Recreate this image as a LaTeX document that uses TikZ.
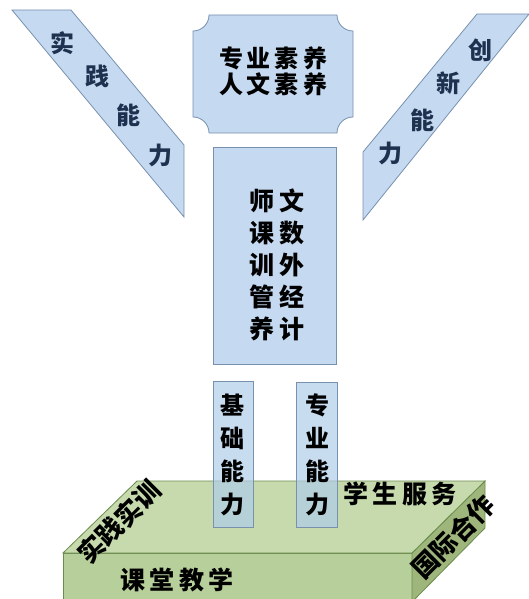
\documentclass[tikz,border=0pt]{standalone}
\usepackage{fontspec}
\newfontfamily\cjk{Noto Sans CJK SC}
\definecolor{bfill}{RGB}{197,217,241}
\definecolor{bline}{RGB}{120,145,175}
\definecolor{sfill}{RGB}{176,205,233}
\definecolor{gtop}{RGB}{198,218,174}
\definecolor{gfront}{RGB}{183,208,155}
\definecolor{gside}{RGB}{158,182,124}
\definecolor{gline}{RGB}{105,140,75}
\definecolor{navy}{RGB}{30,50,80}
\tikzset{
  bluebox/.style={fill=bfill,draw=bline,line width=0.8pt},
  smallbox/.style={fill=sfill,fill opacity=0.7,draw=bline,line width=0.8pt},
  slab/.style={draw=gline,line width=0.8pt},
  txt/.style={font=\cjk\bfseries\fontsize{24}{28}\selectfont,text=black,inner sep=0pt},
  ntxt/.style={font=\cjk\bfseries\fontsize{24}{26}\selectfont,text=navy,inner sep=0pt},
  btxt/.style={font=\cjk\bfseries\fontsize{25}{28}\selectfont,text=black,inner sep=0pt},
  rtxt/.style={font=\cjk\bfseries\fontsize{26}{28}\selectfont,text=black,inner sep=0pt,rotate=45}
}
\begin{document}
\begin{tikzpicture}[x=1pt,y=-1pt]
\useasboundingbox (0,0) rectangle (529,599);
% left parallelogram
\path[bluebox] (12,10) -- (71,10) -- (184,145) -- (184,217) -- cycle;
\node[ntxt] (l1) at (62,43) {实};
\node[ntxt] (l2) at (97,76) {践};
\node[ntxt] (l3) at (128,115) {能};
\node[ntxt] (l4) at (160,155) {力};
% right parallelogram
\path[bluebox] (477,14) -- (529,14) -- (363,220) -- (363,152) -- cycle;
\node[ntxt] (r1) at (480,50) {创};
\node[ntxt] (r2) at (448,83) {新};
\node[ntxt] (r3) at (422,120) {能};
\node[ntxt] (r4) at (390,153) {力};
% top plaque
\def\r{16}
\path[bluebox] (193+\r,15) -- (353-\r,15) arc[start angle=180,end angle=90,radius=\r]
  -- (353,133-\r) arc[start angle=270,end angle=180,radius=\r]
  -- (193+\r,133) arc[start angle=0,end angle=-90,radius=\r]
  -- (193,15+\r) arc[start angle=90,end angle=0,radius=\r] -- cycle;
\node[txt] (t1) at (273,58) {专\,业\,素\,养};
\node[txt] (t2) at (273,84) {人\,文\,素\,养};
% middle box
\path[bluebox] (213,147) rectangle (336,364);
\foreach \a/\b [count=\i] in {师/文,课/数,训/外,管/经,养/计}{
  \node[txt,font=\cjk\bfseries\fontsize{25}{28}\selectfont] (ml\i) at (262,169+32*\i) {\a};
  \node[txt,font=\cjk\bfseries\fontsize{25}{28}\selectfont] (mr\i) at (292,169+32*\i) {\b};
}
% slab
\path[slab,fill=gfront] (63,553) -- (412,553) -- (412,602) -- (63,602) -- cycle;
\path[slab,fill=gside] (412,553) -- (485,481) -- (485,528) -- (412,602) -- cycle;
\path[slab,fill=gtop] (63,553) -- (137,481) -- (485,481) -- (412,553) -- cycle;
% small boxes
\path[smallbox] (213,381) rectangle (253,527);
\path[smallbox] (296,382) rectangle (337,527);
\foreach \c [count=\i] in {基,础,能,力}{
  \node[txt] (sa\i) at (232,372+33*\i) {\c};
}
\foreach \c [count=\i] in {专,业,能,力}{
  \node[txt] (sb\i) at (317,372+33*\i) {\c};
}
% slab labels
\node[btxt] (k1) at (177,580) {课\,堂\,教\,学};
\node[btxt] (k2) at (400,494) {学\,生\,服\,务};
\node[rtxt] (k3) at (119,522) {实践实训};
\node[rtxt] (k4) at (453,537) {国际合作};
\end{tikzpicture}
\end{document}
